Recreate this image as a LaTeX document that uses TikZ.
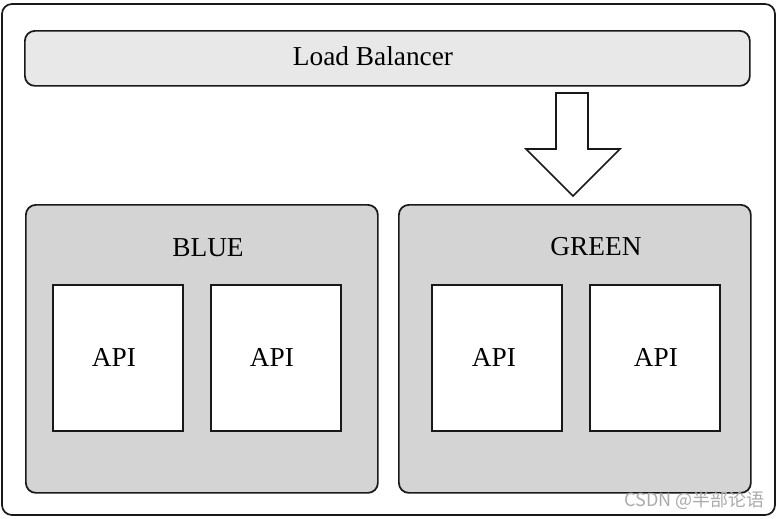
\documentclass[tikz,border=0pt]{standalone}
\usepackage{fontspec}
\setmainfont{Liberation Serif}
\newfontfamily\wmfont{Noto Sans CJK SC}
\begin{document}
\begin{tikzpicture}[x=0.75pt,y=-0.75pt,
  frame/.style={draw=black!90,line width=1.3pt,rounded corners=7.5pt},
  lbbox/.style={frame,fill=black!9},
  group/.style={frame,fill=black!17},
  apibox/.style={draw=black!90,line width=1.3pt,fill=white},
  lbl/.style={font=\fontsize{20.5}{24}\selectfont}]
\useasboundingbox (0,0) rectangle (781,518);
\draw[frame,fill=white] (2,4) rectangle (775,515);
\node[lbbox,minimum width=725*0.75pt,minimum height=55*0.75pt,anchor=north west,inner sep=0pt] (lb) at (24,30) {};
\node[lbl,anchor=base] (lbtext) at (373,65) {Load Balancer};
\node[group,minimum width=352*0.75pt,minimum height=288*0.75pt,anchor=north west,inner sep=0pt] (blue) at (25,204) {};
\node[group,minimum width=352*0.75pt,minimum height=288*0.75pt,anchor=north west,inner sep=0pt] (green) at (398,204) {};
\node[lbl,anchor=base] (bluelbl) at (208,256) {BLUE};
\node[lbl,anchor=base] (greenlbl) at (596,255) {GREEN};
\node[apibox,minimum width=130*0.75pt,minimum height=146*0.75pt,anchor=north west,inner sep=0pt] (a1) at (52,284) {};
\node[apibox,minimum width=130*0.75pt,minimum height=146*0.75pt,anchor=north west,inner sep=0pt] (a2) at (210,284) {};
\node[apibox,minimum width=130*0.75pt,minimum height=146*0.75pt,anchor=north west,inner sep=0pt] (a3) at (431,284) {};
\node[apibox,minimum width=130*0.75pt,minimum height=146*0.75pt,anchor=north west,inner sep=0pt] (a4) at (589,284) {};
\node[lbl,anchor=base] (t1) at (114,366) {API};
\node[lbl,anchor=base] (t2) at (272,366) {API};
\node[lbl,anchor=base] (t3) at (494,366) {API};
\node[lbl,anchor=base] (t4) at (656,366) {API};
\draw[line width=1.3pt,draw=black!90,fill=white,line join=miter]
  (556,93) -- (588,93) -- (588,149) -- (620,149) -- (573,196) -- (526,149) -- (556,149) -- cycle;
\node[font=\wmfont\fontsize{13.5}{15}\selectfont,text=black!33,anchor=base east,inner sep=0pt] (wm) at (765,506) {CSDN @半部论语};
\end{tikzpicture}
\end{document}
